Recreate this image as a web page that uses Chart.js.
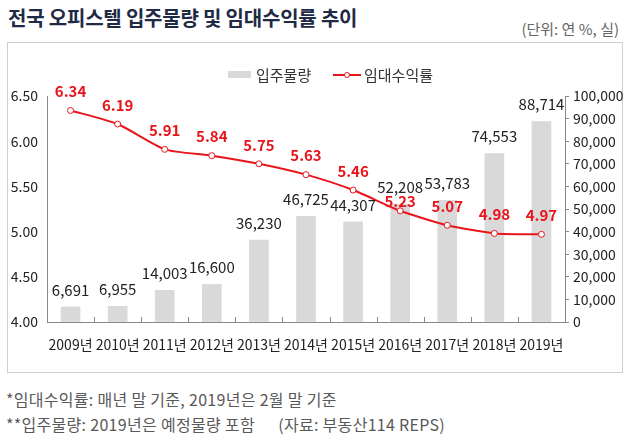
<!DOCTYPE html>
<html>
<head>
<meta charset="utf-8">
<script src="https://cdn.jsdelivr.net/npm/chart.js@4"></script>
<style>
  body { margin: 0; background: #fff; font-family: 'Noto Sans CJK KR', sans-serif; }
  #wrap { position: relative; width: 630px; height: 440px; overflow: hidden; }
  #title { position: absolute; left: 8px; top: 3px; font-size: 20px; font-weight: bold; color: #1f2a44; letter-spacing: -0.2px; }
  #unit { position: absolute; right: 11px; top: 18px; font-size: 15px; color: #666; }
  #box { position: absolute; left: 7px; top: 42px; width: 614px; height: 329px; border: 1px solid #cfcfcf; }
  #note1, #note2 { position: absolute; left: 6px; font-size: 16px; color: #595959; letter-spacing: 0.3px; }
  #note1 { top: 387px; }
  #note2 { top: 412px; }
  canvas { position: absolute; left: 0; top: 0; }
</style>
</head>
<body>
<div id="wrap">
  <div id="title">전국 오피스텔 입주물량 및 임대수익률 추이</div>
  <div id="unit">(단위: 연 %, 실)</div>
  <div id="box"></div>
  <div id="note1">*임대수익률: 매년 말 기준, 2019년은 2월 말 기준</div>
  <div id="note2">**입주물량: 2019년은 예정물량 포함 &nbsp;&nbsp;&nbsp;&nbsp; (자료: 부동산114 REPS)</div>
  <canvas id="myChart" width="630" height="440"></canvas>
</div>
<script>
'use strict'

let years = ['2009년', '2010년', '2011년', '2012년', '2013년', '2014년', '2015년', '2016년', '2017년', '2018년', '2019년'];
let supply = [6691, 6955, 14003, 16600, 36230, 46725, 44307, 52208, 53783, 74553, 88714];  // 입주물량 (실)
let yieldRate = [6.34, 6.19, 5.91, 5.84, 5.75, 5.63, 5.46, 5.23, 5.07, 4.98, 4.97];  // 임대수익률 (%)
let leftTicks = [4.00, 4.50, 5.00, 5.50, 6.00, 6.50];
let rightTicks = [0, 10000, 20000, 30000, 40000, 50000, 60000, 70000, 80000, 90000, 100000];

let FONT = "'Noto Sans CJK KR', sans-serif";
let RED = '#e8161c';
let GREY = '#d9d9d9';

// value labels over bars and points
let valueLabels = {
    id: 'valueLabels',
    afterDatasetsDraw(chart) {
        let ctx = chart.ctx;
        ctx.save();
        ctx.textAlign = 'center';
        ctx.textBaseline = 'middle';

        let barMeta = chart.getDatasetMeta(1);
        ctx.font = '15px ' + FONT;
        ctx.fillStyle = '#222';
        barMeta.data.forEach(function (bar, i) {
            ctx.fillText(supply[i].toLocaleString('en-US'), bar.x, bar.y - 17);
        });

        let lineMeta = chart.getDatasetMeta(0);
        ctx.font = 'bold 15px ' + FONT;
        ctx.fillStyle = RED;
        lineMeta.data.forEach(function (pt, i) {
            let up = (i === 7) ? 10 : 19;  // 5.23 sits lower, under the bar label
            ctx.fillText(yieldRate[i].toFixed(2), pt.x, pt.y - up);
        });

        // small ticks between categories, pointing up
        let x = chart.scales.x;
        let step = x.getPixelForValue(1) - x.getPixelForValue(0);
        ctx.strokeStyle = '#888';
        ctx.lineWidth = 1;
        for (let i = 1; i < years.length; i++) {
            let px = Math.round(x.getPixelForValue(i) - step / 2) + 0.5;
            ctx.beginPath();
            ctx.moveTo(px, chart.chartArea.bottom);
            ctx.lineTo(px, chart.chartArea.bottom - 5);
            ctx.stroke();
        }
        ctx.restore();
    }
};

// legend drawn by hand
let legendDraw = {
    id: 'legendDraw',
    afterDraw(chart) {
        let ctx = chart.ctx;
        ctx.save();
        ctx.font = '15px ' + FONT;
        ctx.textBaseline = 'middle';
        ctx.fillStyle = GREY;
        ctx.fillRect(228, 71, 23, 7);
        ctx.fillStyle = '#333';
        ctx.fillText('입주물량', 256, 75);

        ctx.strokeStyle = RED;
        ctx.lineWidth = 2;
        ctx.beginPath();
        ctx.moveTo(333, 75);
        ctx.lineTo(361, 75);
        ctx.stroke();
        ctx.fillStyle = '#fff';
        ctx.lineWidth = 1;
        ctx.beginPath();
        ctx.arc(347, 75, 2.5, 0, Math.PI * 2);
        ctx.fill();
        ctx.stroke();
        ctx.fillStyle = '#333';
        ctx.fillText('임대수익률', 364, 75);
        ctx.restore();
    }
};

let ctx = document.getElementById('myChart').getContext('2d');
let chart = new Chart(ctx, {
    data: {
        labels: years,
        datasets: [{
            type: 'line',
            label: '임대수익률',
            data: yieldRate,
            yAxisID: 'y',
            borderColor: RED,
            borderWidth: 2,
            pointRadius: 3,
            pointBackgroundColor: '#fff',
            pointBorderColor: RED,
            pointBorderWidth: 1,
            tension: 0.2,
            order: 0
        }, {
            type: 'bar',
            label: '입주물량',
            data: supply,
            yAxisID: 'y1',
            backgroundColor: GREY,
            barThickness: 19,
            order: 1
        }]
    },
    options: {
        responsive: false,
        animation: false,
        events: [],
        layout: { padding: { top: 96, left: 0, right: 0, bottom: 88 } },
        plugins: { legend: { display: false }, tooltip: { enabled: false } },
        scales: {
            x: {
                offset: true,
                grid: { display: false },
                border: { display: true, color: '#888' },
                ticks: { font: { family: FONT, size: 14 }, color: '#222', padding: 6, maxRotation: 0, autoSkip: false },
                afterFit(s) { s.height = 30; }
            },
            y: {
                position: 'left',
                min: 4, max: 6.5,
                afterBuildTicks(s) { s.ticks = leftTicks.map(v => ({ value: v })); },
                grid: { drawOnChartArea: false, drawTicks: false },
                border: { display: true, color: '#888' },
                ticks: { font: { family: FONT, size: 14 }, color: '#222', padding: 9, callback: v => v.toFixed(2) },
                afterFit(s) { s.width = 47; }
            },
            y1: {
                position: 'right',
                min: 0, max: 100000,
                afterBuildTicks(s) { s.ticks = rightTicks.map(v => ({ value: v })); },
                grid: { drawOnChartArea: false, tickLength: 4, color: '#888' },
                border: { display: true, color: '#888' },
                ticks: { font: { family: FONT, size: 14 }, color: '#222', padding: 4, callback: v => v.toLocaleString('en-US') },
                afterFit(s) { s.width = 65; }
            }
        }
    },
    plugins: [valueLabels, legendDraw]
});
</script>
</body>
</html>
